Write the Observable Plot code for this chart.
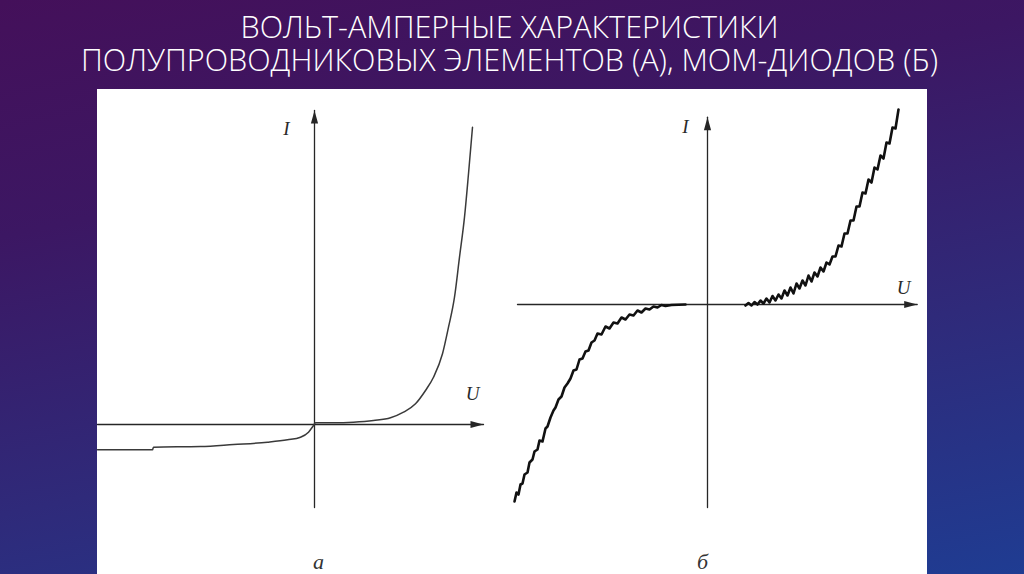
<!DOCTYPE html>
<html>
<head>
<meta charset="utf-8">
<script src="https://cdn.jsdelivr.net/npm/d3@7"></script>
<script src="https://cdn.jsdelivr.net/npm/@observablehq/plot@0.6"></script>
<style>
  html, body { margin: 0; padding: 0; }
  body {
    width: 1024px; height: 574px; overflow: hidden; position: relative;
    background: linear-gradient(168deg, #44105a 0%, #3c1763 30%, #2f2a7a 65%, #1f3c92 100%);
    font-family: "Open Sans", sans-serif;
  }
  #title {
    position: absolute; left: 0; top: 9px; width: 1020px; text-align: center;
    color: #ffffff; font-family: "Open Sans", sans-serif; font-weight: 300;
    font-size: 32px; line-height: 33px; letter-spacing: 0;
  }
  #title span { display: inline-block; white-space: nowrap; text-align: center; transform-origin: 50% 50%; }
  #panel {
    position: absolute; left: 97px; top: 89px; width: 830px; height: 485px;
    background: #ffffff; display: flex;
  }
  #panel svg { display: block; background: transparent; }
</style>
</head>
<body>
<div id="title"><span id="tt">ВОЛЬТ-АМПЕРНЫЕ ХАРАКТЕРИСТИКИ<br>ПОЛУПРОВОДНИКОВЫХ ЭЛЕМЕНТОВ (А), МОМ-ДИОДОВ (Б)</span></div>
<div id="panel">
  <div id="chartA"></div>
  <div id="chartB"></div>
</div>
<script>
// ---------- DATA ----------
// (а) semiconductor element I–V curve (arbitrary units)
const diodeU = [-2.17, -1.62, -1.61, -1.14, -0.81, -0.47, -0.27, -0.14, -0.06, -0.01, 0.01, 0.19, 0.39, 0.59, 0.76, 0.89, 1.01, 1.11, 1.19, 1.28, 1.34, 1.40, 1.45, 1.50, 1.54, 1.58];
const diodeI = [-0.253, -0.253, -0.227, -0.22, -0.20, -0.177, -0.153, -0.127, -0.077, -0.01, 0.017, 0.017, 0.023, 0.04, 0.067, 0.123, 0.207, 0.34, 0.473, 0.707, 0.973, 1.273, 1.673, 2.073, 2.507, 2.973];

// (б) MOM diode I–V curve, negative branch (noisy measured trace)
const momNegU = [-1.93, -1.91, -1.89, -1.87, -1.85, -1.83, -1.80, -1.78, -1.75, -1.73, -1.70, -1.68, -1.65, -1.62, -1.60, -1.57, -1.54, -1.52, -1.49, -1.46, -1.43, -1.40, -1.37, -1.34, -1.31, -1.28, -1.25, -1.22, -1.19, -1.16, -1.13, -1.10, -1.06, -1.02, -0.98, -0.94, -0.90, -0.86, -0.82, -0.78, -0.74, -0.70, -0.66, -0.62, -0.58, -0.54, -0.50, -0.46, -0.42, -0.36, -0.22];
const momNegI = [-1.97, -1.88, -1.90, -1.80, -1.79, -1.70, -1.68, -1.58, -1.55, -1.47, -1.45, -1.36, -1.37, -1.24, -1.22, -1.13, -1.06, -1.03, -0.95, -0.92, -0.83, -0.79, -0.74, -0.66, -0.65, -0.55, -0.54, -0.47, -0.46, -0.38, -0.36, -0.29, -0.30, -0.22, -0.24, -0.18, -0.19, -0.13, -0.15, -0.10, -0.11, -0.06, -0.08, -0.04, -0.05, -0.02, -0.03, -0.005, -0.015, -0.005, 0];
// (б) positive branch
const momPosU = [0.38, 0.41, 0.44, 0.47, 0.50, 0.53, 0.56, 0.59, 0.62, 0.65, 0.68, 0.71, 0.74, 0.77, 0.80, 0.83, 0.86, 0.89, 0.92, 0.95, 0.98, 1.01, 1.04, 1.07, 1.10, 1.13, 1.16, 1.19, 1.22, 1.25, 1.28, 1.31, 1.34, 1.37, 1.40, 1.43, 1.46, 1.49, 1.52, 1.55, 1.58, 1.61, 1.64, 1.67, 1.70, 1.73, 1.76, 1.79, 1.82, 1.85, 1.88, 1.91];
const momPosI = [-0.01, 0.015, -0.01, 0.025, 0.0, 0.04, 0.01, 0.06, 0.02, 0.085, 0.04, 0.10, 0.06, 0.14, 0.09, 0.17, 0.11, 0.21, 0.16, 0.24, 0.19, 0.29, 0.23, 0.32, 0.28, 0.37, 0.33, 0.42, 0.40, 0.48, 0.48, 0.59, 0.58, 0.71, 0.71, 0.84, 0.84, 0.98, 0.98, 1.12, 1.11, 1.25, 1.22, 1.37, 1.35, 1.49, 1.46, 1.62, 1.61, 1.77, 1.76, 1.95];

// axes extents (data units) and labels
const axisA = { uMin: -2.17, uTip: 1.69, iMin: -0.83, iTip: 3.14 };
const axisB = { uMin: -1.90, uTip: 2.097, iMin: -2.03, iTip: 1.873 };
const axisLabelsA = [ { u: -0.28, i: 2.96, t: "I" }, { u: 1.58, i: 0.31, t: "U" } ];
const axisLabelsB = [ { u: -0.22, i: 1.78, t: "I" }, { u: 1.96, i: 0.17, t: "U" } ];
const captionA = [ { u: 0.04, i: -1.44, t: "а" } ];
const captionB = [ { u: -0.05, i: -2.64, t: "б" } ];

// ---------- helpers ----------
const zip = (us, is) => us.map((u, k) => ({ u, i: is[k] }));
const headUp = { draw(ctx) { ctx.moveTo(0, 0); ctx.lineTo(-3.6, 13); ctx.lineTo(3.6, 13); ctx.closePath(); } };
const headRight = { draw(ctx) { ctx.moveTo(0, 0); ctx.lineTo(-13, -3.6); ctx.lineTo(-13, 3.6); ctx.closePath(); } };
const axisColor = "#262626";
const serif = "'Liberation Serif', 'DejaVu Serif', serif";

function axesMarks(ax) {
  return [
    Plot.line([{ u: ax.uMin, i: 0 }, { u: ax.uTip, i: 0 }], { x: "u", y: "i", stroke: axisColor, strokeWidth: 1.3 }),
    Plot.line([{ u: 0, i: ax.iMin }, { u: 0, i: ax.iTip }], { x: "u", y: "i", stroke: axisColor, strokeWidth: 1.3 }),
    Plot.dot([{ u: 0, i: ax.iTip }], { x: "u", y: "i", symbol: headUp, fill: axisColor, stroke: "none", r: 4 }),
    Plot.dot([{ u: ax.uTip, i: 0 }], { x: "u", y: "i", symbol: headRight, fill: axisColor, stroke: "none", r: 4 })
  ];
}
function labelMarks(axisLabels, caption) {
  return [
    Plot.text(axisLabels, { x: "u", y: "i", text: "t", fontSize: 19, fontFamily: serif, fontStyle: "italic", fill: "#2a2a2a" }),
    Plot.text(caption, { x: "u", y: "i", text: "t", fontSize: 22, fontFamily: serif, fontStyle: "italic", fill: "#333", lineAnchor: "bottom" })
  ];
}

// ---------- chart (а) ----------
const chartA = Plot.plot({
  width: 403, height: 485, margin: 0,
  x: { domain: [-2.17, 1.86], axis: null },
  y: { domain: [-1.50, 3.35], axis: null },
  style: { background: "transparent", overflow: "visible" },
  marks: [
    ...axesMarks(axisA),
    Plot.line(zip(diodeU, diodeI), { x: "u", y: "i", stroke: "#3a3a3a", strokeWidth: 1.5, curve: "monotone-x" }),
    ...labelMarks(axisLabelsA, captionA)
  ]
});
document.getElementById("chartA").append(chartA);

// ---------- chart (б) ----------
const chartB = Plot.plot({
  width: 427, height: 485, margin: 0,
  x: { domain: [-2.07, 2.20], axis: null },
  y: { domain: [-2.70, 2.15], axis: null },
  style: { background: "transparent", overflow: "visible" },
  marks: [
    ...axesMarks(axisB),
    Plot.line(zip(momNegU, momNegI), { x: "u", y: "i", stroke: "#111", strokeWidth: 2.6 }),
    Plot.line(zip(momPosU, momPosI), { x: "u", y: "i", stroke: "#111", strokeWidth: 2.6 }),
    ...labelMarks(axisLabelsB, captionB)
  ]
});
document.getElementById("chartB").append(chartB);

// ---------- title fit (condensed look) ----------
const tt = document.getElementById("tt");
const k = 857 / tt.getBoundingClientRect().width;
tt.style.transform = `scaleX(${k})`;
</script>
</body>
</html>
